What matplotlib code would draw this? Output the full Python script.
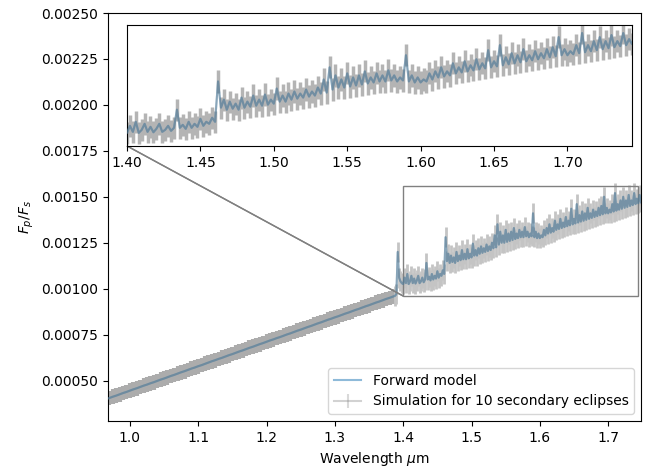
import numpy as np
import matplotlib
matplotlib.use("Agg")
import matplotlib.pyplot as plt
from matplotlib.collections import LineCollection
from mpl_toolkits.axes_grid1.inset_locator import mark_inset

# smooth part of the spectrum (below 1.39 um), Fp/Fs in units of 1e-5
wl_lo = [0.965, 0.970, 0.975, 0.980, 0.985, 0.990, 0.995, 1.000, 1.005, 1.010,
         1.015, 1.020, 1.025, 1.030, 1.035, 1.040, 1.045, 1.050, 1.055, 1.060,
         1.065, 1.070, 1.075, 1.080, 1.085, 1.090, 1.095, 1.100, 1.105, 1.110,
         1.115, 1.120, 1.125, 1.130, 1.135, 1.140, 1.145, 1.150, 1.155, 1.160,
         1.165, 1.170, 1.175, 1.180, 1.185, 1.190, 1.195, 1.200, 1.205, 1.210,
         1.215, 1.220, 1.225, 1.230, 1.235, 1.240, 1.245, 1.250, 1.255, 1.260,
         1.265, 1.270, 1.275, 1.280, 1.285, 1.290, 1.295, 1.300, 1.305, 1.310,
         1.315, 1.320, 1.325, 1.330, 1.335, 1.340, 1.345, 1.350, 1.355, 1.360,
         1.365, 1.370, 1.375, 1.380, 1.385]
fp_lo = [39.8, 40.5, 41.2, 41.8, 42.5, 43.2, 43.8, 44.5, 45.2, 45.8,
         46.5, 47.2, 47.8, 48.5, 49.1, 49.8, 50.5, 51.1, 51.8, 52.5,
         53.1, 53.8, 54.5, 55.1, 55.8, 56.5, 57.1, 57.8, 58.4, 59.1,
         59.8, 60.5, 61.1, 61.8, 62.4, 63.1, 63.8, 64.4, 65.1, 65.8,
         66.4, 67.1, 67.8, 68.4, 69.1, 69.8, 70.4, 71.1, 71.8, 72.4,
         73.1, 73.7, 74.4, 75.1, 75.7, 76.4, 77.1, 77.7, 78.4, 79.1,
         79.7, 80.4, 81.1, 81.7, 82.4, 83.1, 83.7, 84.4, 85.0, 85.7,
         86.4, 87.0, 87.7, 88.4, 89.0, 89.7, 90.4, 91.0, 91.7, 92.4,
         93.0, 93.7, 94.4, 95.0, 95.7]

# spiky part (1.39 - 1.75 um)
wl_hi = [1.388, 1.390, 1.392, 1.394, 1.396, 1.398, 1.400, 1.402, 1.404, 1.406,
         1.408, 1.410, 1.412, 1.414, 1.416, 1.418, 1.420, 1.422, 1.424, 1.426,
         1.428, 1.430, 1.432, 1.434, 1.436, 1.438, 1.440, 1.442, 1.444, 1.446,
         1.448, 1.450, 1.452, 1.454, 1.456, 1.458, 1.460, 1.462, 1.464, 1.466,
         1.468, 1.470, 1.472, 1.474, 1.476, 1.478, 1.480, 1.482, 1.484, 1.486,
         1.488, 1.490, 1.492, 1.494, 1.496, 1.498, 1.500, 1.502, 1.504, 1.506,
         1.508, 1.510, 1.512, 1.514, 1.516, 1.518, 1.520, 1.522, 1.524, 1.526,
         1.528, 1.530, 1.532, 1.534, 1.536, 1.538, 1.540, 1.542, 1.544, 1.546,
         1.548, 1.550, 1.552, 1.554, 1.556, 1.558, 1.560, 1.562, 1.564, 1.566,
         1.568, 1.570, 1.572, 1.574, 1.576, 1.578, 1.580, 1.582, 1.584, 1.586,
         1.588, 1.590, 1.592, 1.594, 1.596, 1.598, 1.600, 1.602, 1.604, 1.606,
         1.608, 1.610, 1.612, 1.614, 1.616, 1.618, 1.620, 1.622, 1.624, 1.626,
         1.628, 1.630, 1.632, 1.634, 1.636, 1.638, 1.640, 1.642, 1.644, 1.646,
         1.648, 1.650, 1.652, 1.654, 1.656, 1.658, 1.660, 1.662, 1.664, 1.666,
         1.668, 1.670, 1.672, 1.674, 1.676, 1.678, 1.680, 1.682, 1.684, 1.686,
         1.688, 1.690, 1.692, 1.694, 1.696, 1.698, 1.700, 1.702, 1.704, 1.706,
         1.708, 1.710, 1.712, 1.714, 1.716, 1.718, 1.720, 1.722, 1.724, 1.726,
         1.728, 1.730, 1.732, 1.734, 1.736, 1.738, 1.740, 1.742, 1.744, 1.746,
         1.748]
fp_hi = [96.1, 97.0, 120.0, 106.0, 104.0, 103.0, 102.5, 106.0, 103.0, 108.0,
         102.5, 104.0, 107.0, 103.0, 105.5, 102.8, 104.5, 107.0, 103.0, 104.0,
         106.0, 103.5, 105.0, 114.0, 105.0, 106.5, 104.5, 108.0, 105.0, 107.0,
         105.5, 109.5, 106.0, 108.0, 107.0, 110.0, 108.0, 128.0, 115.0, 119.0,
         114.0, 118.0, 114.5, 117.0, 114.0, 120.0, 115.0, 118.0, 115.5, 121.0,
         116.0, 119.0, 116.0, 121.5, 116.5, 119.0, 117.0, 124.5, 118.0, 121.0,
         118.0, 122.0, 119.0, 123.0, 119.5, 122.0, 120.0, 124.0, 120.5, 123.0,
         121.0, 125.0, 122.0, 129.0, 122.5, 135.0, 124.0, 131.0, 125.0, 129.0,
         125.0, 132.0, 125.5, 130.0, 126.0, 131.0, 126.5, 133.0, 127.0, 130.0,
         127.5, 132.0, 128.0, 131.0, 128.0, 133.5, 128.5, 131.0, 128.0, 130.0,
         128.5, 141.0, 128.0, 131.0, 127.5, 130.0, 127.5, 129.0, 128.0, 132.0,
         129.0, 133.0, 130.0, 135.0, 130.5, 133.0, 131.0, 137.0, 132.0, 135.0,
         132.5, 138.0, 133.0, 136.0, 133.5, 139.0, 134.0, 137.0, 134.5, 143.5,
         135.0, 138.0, 135.5, 146.0, 136.0, 140.0, 136.5, 142.0, 137.0, 141.0,
         137.5, 144.0, 138.0, 141.0, 138.5, 143.0, 139.0, 142.0, 139.5, 144.0,
         140.0, 145.0, 140.5, 150.0, 141.0, 144.0, 141.0, 143.0, 141.5, 146.0,
         142.0, 152.0, 142.5, 146.0, 143.0, 148.0, 143.5, 150.0, 144.0, 148.0,
         144.5, 151.0, 145.0, 148.0, 145.5, 152.0, 146.0, 149.0, 146.5, 151.0,
         147.0]

err_lo = 4.0
err_hi = 5.5

scale = 1e-5
fp_lo = np.array(fp_lo) * scale
fp_hi = np.array(fp_hi) * scale
wl = wl_lo + wl_hi
fp = np.concatenate([fp_lo, fp_hi])


def sim_bars(axis, x, y, err, ecolor, lw, label=None):
    # opaque bars under the model, faint grey data line over it
    eb = axis.errorbar(x, y, yerr=err, fmt="-", color="gray", ecolor=ecolor,
                       elinewidth=lw, zorder=1, label=label)
    eb.lines[0].set_alpha(0.35)
    eb.lines[0].set_zorder(4)
    for coll in eb.lines[2]:
        coll.set_capstyle("butt")
    return eb


fig = plt.figure(figsize=(6.57, 4.70), dpi=100)
ax = fig.add_axes([0.1644, 0.1043, 0.8112, 0.868])

ax.plot(wl, fp, color="C0", alpha=0.5, zorder=3, label="Forward model")
sim_bars(ax, wl_lo, fp_lo, err_lo * scale, "#acacac", 3)
sim_bars(ax, wl_hi, fp_hi, err_hi * scale, "#c4c4c4", 2,
         label="Simulation for 10 secondary eclipses")

ax.set_xlim(0.968, 1.748)
ax.set_ylim(0.00028, 0.0025)
ax.set_xlabel(r"Wavelength $\mu$m")
ax.set_ylabel(r"$F_p/F_s$")
leg = ax.legend(loc="lower right")
for coll in leg.findobj(LineCollection):
    coll.set_linewidth(1.5)
    coll.set_color("#d9d9d9")

# zoomed inset
axins = fig.add_axes([0.1933, 0.6894, 0.7687, 0.2574])
axins.plot(wl_hi, fp_hi, color="C0", alpha=0.5, zorder=3)
sim_bars(axins, wl_hi, fp_hi, err_hi * scale, "#b4b4b4", 2.5)
axins.set_xlim(1.40, 1.744)
axins.set_ylim(0.00096, 0.00156)
axins.set_yticks([])
mark_inset(ax, axins, loc1=3, loc2=3, fc="none", ec="0.5")

fig.savefig("out.png", dpi=100)
